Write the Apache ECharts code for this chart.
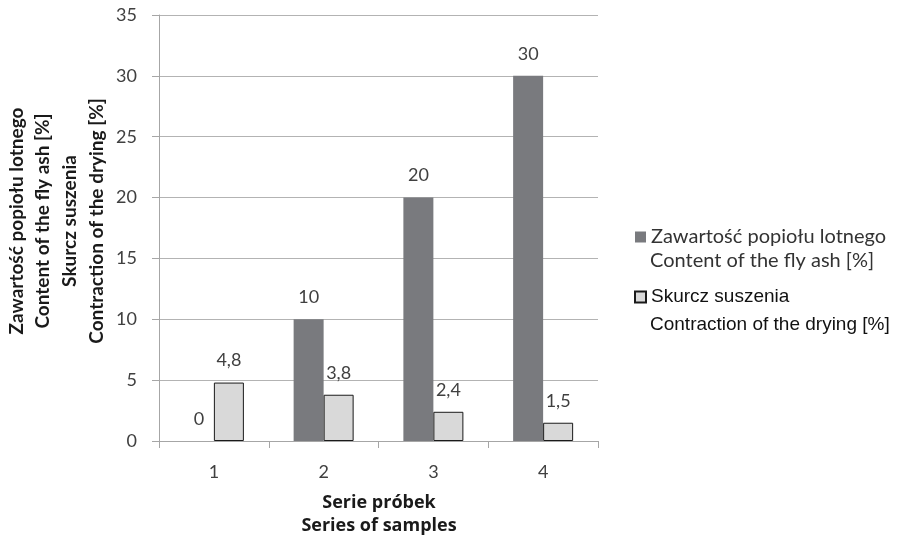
<!DOCTYPE html>
<html>
<head>
<meta charset="utf-8">
<script src="https://cdn.jsdelivr.net/npm/echarts@6/dist/echarts.min.js"></script>
<style>
  html, body { margin: 0; padding: 0; background: #fff; }
  #chart { width: 897px; height: 541px; }
</style>
</head>
<body>
<div id="chart"></div>
<script>
// Sample series on the x axis
const categories = ['1', '2', '3', '4'];
// Fly ash content [%]
const flyAsh = [0, 10, 20, 30];
// Drying shrinkage [%]
const shrinkage = [4.8, 3.8, 2.4, 1.5];

const seriesNames = ['Zawartość popiołu lotnego', 'Skurcz suszenia'];
const seriesNamesEn = ['Content of the fly ash [%]', 'Contraction of the drying [%]'];
const yTitle = ['Zawartość popiołu lotnego', 'Content of the fly ash [%]', 'Skurcz suszenia', 'Contraction of the drying [%]'];
const xTitle = ['Serie próbek', 'Series of samples'];

const FONT = 'Lato, "Open Sans", sans-serif';
const OPEN = '"Open Sans", Lato, sans-serif';
const ARIAL = '"Liberation Sans", Arial, sans-serif';
const txt = '#404040';

const commaLabel = p => String(p.value).replace('.', ',');

const chart = echarts.init(document.getElementById('chart'), null, { renderer: 'canvas' });

// Vertical y-axis title, four stacked lines
const yTitleX = [17, 43, 70, 97];
const graphics = yTitle.map((t, i) => ({
  type: 'text',
  x: yTitleX[i],
  y: 221,
  rotation: Math.PI / 2,
  style: {
    text: t,
    fill: '#1a1a1a',
    font: 'bold 19px ' + FONT,
    textAlign: 'center',
    textVerticalAlign: 'middle'
  }
}));
// Two-line x-axis title
xTitle.forEach((t, i) => graphics.push({
  type: 'text',
  x: 379,
  y: 503 + i * 23,
  style: {
    text: t,
    fill: '#1a1a1a',
    font: 'bold 18px ' + OPEN,
    textAlign: 'center',
    textVerticalAlign: 'middle'
  }
}));
// Second (English) line under each legend entry
graphics.push({
  type: 'text', x: 650, y: 261,
  style: { text: seriesNamesEn[0], fill: '#333', font: '20px ' + FONT, textAlign: 'left', textVerticalAlign: 'middle' }
});
graphics.push({
  type: 'text', x: 650, y: 325,
  style: { text: seriesNamesEn[1], fill: '#111', font: '19px ' + ARIAL, textAlign: 'left', textVerticalAlign: 'middle' }
});

chart.setOption({
  animation: false,
  backgroundColor: '#fff',
  grid: { left: 159, right: 299, top: 15, bottom: 100, containLabel: false },
  legend: {
    orient: 'vertical',
    left: 634,
    top: 226,
    padding: 0,
    itemWidth: 11,
    itemHeight: 11,
    itemGap: 38,
    icon: 'rect',
    data: [
      { name: seriesNames[0], textStyle: { fontFamily: FONT, fontSize: 20, lineHeight: 22, color: '#333' } },
      { name: seriesNames[1], textStyle: { fontFamily: ARIAL, fontSize: 19, lineHeight: 22, color: '#111' } }
    ]
  },
  xAxis: {
    type: 'category',
    data: categories,
    axisLine: { lineStyle: { color: '#a6a6a6', width: 1 } },
    axisTick: { show: true, length: 7, lineStyle: { color: '#a6a6a6' } },
    axisLabel: { color: txt, fontFamily: FONT, fontSize: 18, margin: 22 }
  },
  yAxis: {
    type: 'value',
    min: 0,
    max: 35,
    interval: 5,
    axisLine: { show: true, lineStyle: { color: '#a6a6a6' } },
    axisTick: { show: true, length: 7, lineStyle: { color: '#a6a6a6' } },
    axisLabel: { color: txt, fontFamily: FONT, fontSize: 18, margin: 22 },
    splitLine: { lineStyle: { color: '#b3b3b3', width: 1 } }
  },
  series: [
    {
      name: seriesNames[0],
      type: 'bar',
      data: flyAsh,
      barWidth: 30,
      barGap: '0%',
      itemStyle: { color: '#797a7e' },
      label: { show: true, position: 'top', distance: 13, color: txt, fontFamily: FONT, fontSize: 18, formatter: commaLabel }
    },
    {
      name: seriesNames[1],
      type: 'bar',
      data: shrinkage,
      barWidth: 30,
      barGap: '0%',
      itemStyle: { color: '#d9d9d9', borderColor: '#1a1a1a', borderWidth: 1 },
      label: { show: true, position: 'top', distance: 13, color: txt, fontFamily: FONT, fontSize: 18, formatter: commaLabel }
    }
  ],
  graphic: graphics
});
</script>
</body>
</html>
